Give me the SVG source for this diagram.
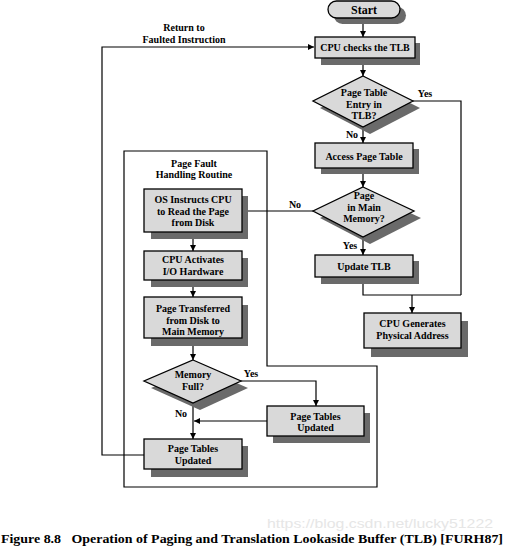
<svg xmlns="http://www.w3.org/2000/svg" width="505" height="547" viewBox="0 0 505 547">
<defs>
<style>
.box{fill:#d9d9d9;stroke:#000;stroke-width:1.3}
.sh{fill:#6a6a6a;stroke:none}
.t{font-family:"Liberation Serif","Times New Roman",serif;font-weight:bold;font-size:10px;fill:#000;text-anchor:middle}
.c{fill:none;stroke:#000;stroke-width:1.2}
</style>
<marker id="ah" viewBox="0 0 10 10" refX="10" refY="5" markerWidth="6" markerHeight="6" markerUnits="userSpaceOnUse" orient="auto">
<path d="M0,0 L10,5 L0,10 z" fill="#000"/>
</marker>
</defs>
<rect width="505" height="547" fill="#fff"/>

<g id="routine-frame">
<path d="M124,151 H267 V366 H377 V487 H124 Z" fill="none" stroke="#000" stroke-width="1.2"/>
<text class="t" x="194" y="167">Page Fault</text>
<text class="t" x="194" y="178">Handling Routine</text>
</g>

<g id="connectors">
<path class="c" d="M363,17 V37" marker-end="url(#ah)"/>
<path class="c" d="M363,58 V76" marker-end="url(#ah)"/>
<path class="c" d="M363,127 V143" marker-end="url(#ah)"/>
<path class="c" d="M363,168 V187" marker-end="url(#ah)"/>
<path class="c" d="M363,237 V255" marker-end="url(#ah)"/>
<path class="c" d="M413,101 H461 V295"/>
<path class="c" d="M363,277 V295 H461"/>
<path class="c" d="M412,295 V313" marker-end="url(#ah)"/>
<path class="c" d="M313,211 H242" marker-end="url(#ah)"/>
<path class="c" d="M193,232 V251" marker-end="url(#ah)"/>
<path class="c" d="M193,280 V297" marker-end="url(#ah)"/>
<path class="c" d="M193,338 V360" marker-end="url(#ah)"/>
<path class="c" d="M241,381 H316 V406" marker-end="url(#ah)"/>
<path class="c" d="M267,421 H194" marker-end="url(#ah)"/>
<path class="c" d="M193,403 V439" marker-end="url(#ah)"/>
<path class="c" d="M144,455 H102 V47 H314" marker-end="url(#ah)"/>
<text class="t" x="184" y="31">Return to</text>
<text class="t" x="184" y="43">Faulted Instruction</text>
<text class="t" x="425" y="97">Yes</text>
<text class="t" x="352" y="138">No</text>
<text class="t" x="295" y="208">No</text>
<text class="t" x="350" y="249">Yes</text>
<text class="t" x="251" y="377">Yes</text>
<text class="t" x="181" y="417">No</text>
</g>

<g id="start">
<rect class="sh" x="334" y="7" width="72" height="17" rx="8.5"/>
<rect class="box" x="328" y="1" width="72" height="17" rx="8.5"/>
<text class="t" x="364" y="14" style="font-size:12px">Start</text>
</g>

<g id="cpu-checks-tlb">
<rect class="sh" x="321" y="43" width="99" height="22"/>
<rect class="box" x="315" y="37" width="100" height="21"/>
<text class="t" x="365" y="51">CPU checks the TLB</text>
</g>

<g id="tlb-entry-decision">
<polygon class="sh" points="370,83 420,108 370,134 320,108"/>
<polygon class="box" points="363,76 413,101 363,127 313,101"/>
<text class="t" x="364" y="96">Page Table</text>
<text class="t" x="364" y="108">Entry in</text>
<text class="t" x="364" y="119">TLB?</text>
</g>

<g id="access-page-table">
<rect class="sh" x="321" y="149" width="98" height="25"/>
<rect class="box" x="315" y="143" width="98" height="25"/>
<text class="t" x="364" y="160">Access Page Table</text>
</g>

<g id="page-in-memory-decision">
<polygon class="sh" points="370,194 421,218 370,244 320,218"/>
<polygon class="box" points="363,187 414,211 363,237 313,211"/>
<text class="t" x="364" y="199">Page</text>
<text class="t" x="364" y="210.5">in Main</text>
<text class="t" x="364" y="222">Memory?</text>
</g>

<g id="update-tlb">
<rect class="sh" x="321" y="261" width="98" height="23"/>
<rect class="box" x="315" y="255" width="98" height="22"/>
<text class="t" x="364" y="269.5">Update TLB</text>
</g>

<g id="cpu-generates">
<rect class="sh" x="371" y="321" width="97" height="36"/>
<rect class="box" x="364" y="313" width="97" height="35"/>
<text class="t" x="412.5" y="327">CPU Generates</text>
<text class="t" x="412.5" y="338.5">Physical Address</text>
</g>

<g id="os-instructs">
<rect class="sh" x="151" y="196" width="97" height="43"/>
<rect class="box" x="144" y="189" width="98" height="43"/>
<text class="t" x="193" y="203">OS Instructs CPU</text>
<text class="t" x="193" y="215">to Read the Page</text>
<text class="t" x="193" y="226">from Disk</text>
</g>

<g id="cpu-activates">
<rect class="sh" x="151" y="258" width="97" height="29"/>
<rect class="box" x="144" y="251" width="98" height="29"/>
<text class="t" x="193" y="263">CPU Activates</text>
<text class="t" x="193" y="274.5">I/O Hardware</text>
</g>

<g id="page-transferred">
<rect class="sh" x="151" y="305" width="97" height="41"/>
<rect class="box" x="144" y="297" width="98" height="41"/>
<text class="t" x="193" y="312">Page Transferred</text>
<text class="t" x="193" y="323.5">from Disk to</text>
<text class="t" x="193" y="334.5">Main Memory</text>
</g>

<g id="memory-full-decision">
<polygon class="sh" points="200,367 248,388 200,410 151,388"/>
<polygon class="box" points="193,360 241,381 193,403 144,381"/>
<text class="t" x="193" y="378">Memory</text>
<text class="t" x="193" y="390">Full?</text>
</g>

<g id="page-tables-updated-right">
<rect class="sh" x="273" y="413" width="97" height="30"/>
<rect class="box" x="267" y="406" width="97" height="30"/>
<text class="t" x="315.5" y="419.5">Page Tables</text>
<text class="t" x="315.5" y="431">Updated</text>
</g>

<g id="page-tables-updated-left">
<rect class="sh" x="151" y="446" width="97" height="31"/>
<rect class="box" x="144" y="439" width="98" height="30"/>
<text class="t" x="193" y="452">Page Tables</text>
<text class="t" x="193" y="463.5">Updated</text>
</g>

<g id="caption">
<text x="380" y="528" style="font-family:'Liberation Sans',Arial,sans-serif;font-size:13px;fill:#e6e6e6;text-anchor:middle" textLength="226" lengthAdjust="spacingAndGlyphs">https://blog.csdn.net/lucky51222</text>
<text x="1" y="543" style="font-family:'Liberation Serif','Times New Roman',serif;font-weight:bold;font-size:12px;fill:#000" textLength="502" lengthAdjust="spacingAndGlyphs" xml:space="preserve">Figure 8.8   Operation of Paging and Translation Lookaside Buffer (TLB) [FURH87]</text>
</g>
</svg>
